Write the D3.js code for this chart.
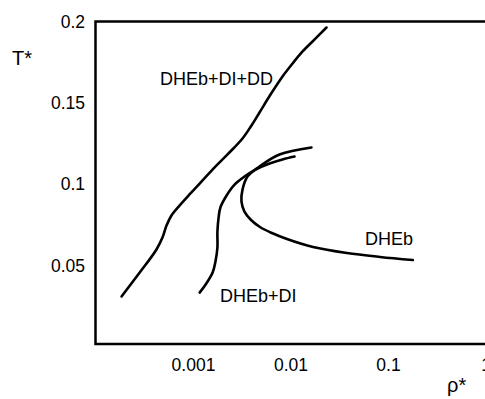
<!DOCTYPE html>
<html>
<head>
<meta charset="utf-8">
<script src="https://cdn.jsdelivr.net/npm/d3@7"></script>
<style>
  body { margin: 0; background: #fff; }
  svg text { font-family: "Liberation Sans", Arial, sans-serif; fill: #000; }
</style>
</head>
<body>
<div id="chart"></div>
<script>
// tick values and labels
const xTicks = [0.001, 0.01, 0.1, 1]
const xTickLabels = ['0.001', '0.01', '0.1', '1']
const yTicks = [0.05, 0.1, 0.15, 0.2]
const yTickLabels = ['0.05', '0.1', '0.15', '0.2']

// DHEb+DI+DD boundary
const ddRho = [1.85e-4, 2.89e-4, 4.22e-4, 4.86e-4, 5.35e-4, 6.01e-4, 7.27e-4, 9.20e-4, 1.17e-3, 1.585e-3,
  2.26e-3, 3.22e-3, 3.98e-3, 4.81e-3, 6.24e-3, 8.28e-3, 0.0105, 0.0133, 0.0176, 0.0234]
const ddT = [0.031, 0.0463, 0.0599, 0.0672, 0.0746, 0.0808, 0.0869, 0.0937, 0.1004, 0.109,
  0.1183, 0.1281, 0.1361, 0.1441, 0.1551, 0.1662, 0.1742, 0.1816, 0.1889, 0.1963]

// DHEb+DI boundary
const diRho = [0.00117, 0.00137, 0.00159, 0.0017, 0.00178, 0.00178, 0.00183, 0.00191, 0.00221, 0.00267,
  0.00337, 0.00438, 0.0061, 0.00828, 0.011]
const diT = [0.0334, 0.039, 0.0457, 0.0525, 0.0611, 0.0709, 0.0795, 0.0857, 0.0931, 0.0998,
  0.1047, 0.109, 0.1127, 0.1152, 0.117]

// DHEb boundary
const hebRho = [0.0164, 0.00771, 0.00481, 0.00362, 0.00322, 0.00314, 0.00337, 0.00394, 0.00486, 0.00645,
  0.0092, 0.01703, 0.0379, 0.0828, 0.18]
const hebT = [0.1226, 0.1183, 0.1109, 0.1047, 0.0967, 0.0894, 0.0832, 0.078, 0.0737, 0.07,
  0.0663, 0.0614, 0.0577, 0.0553, 0.0534]

// region labels
const labelTexts = ['DHEb+DI+DD', 'DHEb+DI', 'DHEb']
const labelRho = [4.59e-4, 1.89e-3, 0.058]
const labelT = [0.161, 0.0276, 0.0626]

const width = 485, height = 399
const frame = { left: 95.5, top: 21.5, bottom: 344 }

const svg = d3.select('#chart')
  .append('svg')
  .attr('width', width)
  .attr('height', height)

const x = d3.scaleLog()
  .domain([1e-4, 1])
  .range([frame.left, frame.left + 4 * 97.5])

const y = d3.scaleLinear()
  .domain([0.0018, 0.2])
  .range([frame.bottom, frame.top])

// box round the plot, right side runs past the window
svg.append('rect')
  .attr('x', frame.left)
  .attr('y', frame.top)
  .attr('width', 420)
  .attr('height', frame.bottom - frame.top)
  .attr('fill', 'none')
  .attr('stroke', '#000')
  .attr('stroke-width', 2.5)

// axes, labels only
svg.append('g')
  .attr('transform', `translate(0,${frame.bottom})`)
  .call(d3.axisBottom(x).tickValues(xTicks).tickFormat((d, i) => xTickLabels[i]).tickSize(0).tickPadding(15))
  .call(g => g.select('.domain').remove())
  .attr('font-size', 17.5)
  .attr('font-family', null)

svg.append('g')
  .attr('transform', `translate(${frame.left},0)`)
  .call(d3.axisLeft(y).tickValues(yTicks).tickFormat((d, i) => yTickLabels[i]).tickSize(0).tickPadding(10.5))
  .call(g => g.select('.domain').remove())
  .attr('font-size', 17.5)
  .attr('font-family', null)

svg.append('text')
  .attr('x', 12)
  .attr('y', 65)
  .attr('font-size', 20)
  .text('T*')

svg.append('text')
  .attr('x', 447)
  .attr('y', 392)
  .attr('font-size', 20)
  .text('ρ*')

// boundary curves
const line = d3.line()
  .x(d => x(d[0]))
  .y(d => y(d[1]))
  .curve(d3.curveCatmullRom.alpha(0.5))

const curves = [
  d3.zip(ddRho, ddT),
  d3.zip(diRho, diT),
  d3.zip(hebRho, hebT)
]

svg.selectAll('path.boundary')
  .data(curves)
  .join('path')
  .attr('class', 'boundary')
  .attr('d', line)
  .attr('fill', 'none')
  .attr('stroke', '#000')
  .attr('stroke-width', 2.6)
  .attr('stroke-linecap', 'round')

svg.selectAll('text.region')
  .data(labelTexts)
  .join('text')
  .attr('class', 'region')
  .attr('x', (d, i) => x(labelRho[i]))
  .attr('y', (d, i) => y(labelT[i]))
  .attr('font-size', 18)
  .text(d => d)
</script>
</body>
</html>
